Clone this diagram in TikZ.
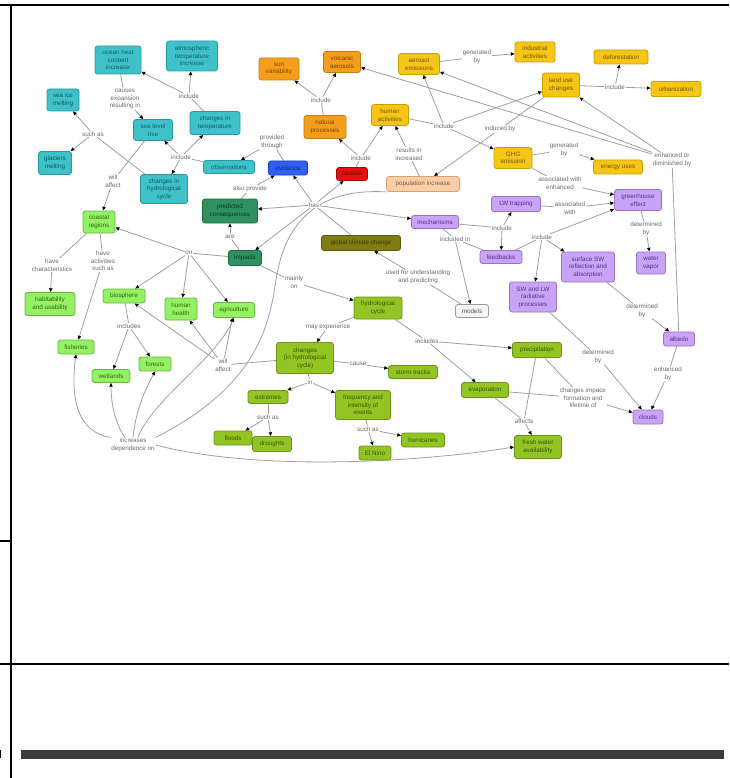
\documentclass[tikz,border=0pt]{standalone}
\usepackage{fontspec}
\setmainfont{Liberation Sans}
\usetikzlibrary{arrows.meta}
\pgfdeclarelayer{bg}
\pgfsetlayers{bg,main}
\newcommand\mapfont{\fontsize{6.3}{7.6}\selectfont}
\newcommand\cmnode[7]{\node[#1, minimum width=#5pt, minimum height=#6pt] (#2) at (#3,#4) {#7};}
\definecolor{tealF}{HTML}{3EC1C8}\definecolor{tealD}{HTML}{2A9AA0}\definecolor{tealT}{HTML}{0F5F63}
\definecolor{oraF}{HTML}{F59E1B}\definecolor{oraD}{HTML}{C97C0C}\definecolor{oraT}{HTML}{7A4400}
\definecolor{yelF}{HTML}{F6C516}\definecolor{yelD}{HTML}{C9A000}\definecolor{yelT}{HTML}{6E5800}
\definecolor{bluF}{HTML}{3060F0}\definecolor{bluD}{HTML}{1A40C0}\definecolor{bluT}{HTML}{0A2A80}
\definecolor{redF}{HTML}{E31212}\definecolor{redD}{HTML}{A00808}\definecolor{redT}{HTML}{6A0000}
\definecolor{peaF}{HTML}{F9CFA9}\definecolor{peaD}{HTML}{D9A070}\definecolor{peaT}{HTML}{8A5A30}
\definecolor{dgrF}{HTML}{2F9060}\definecolor{dgrD}{HTML}{1F6A44}\definecolor{dgrT}{HTML}{0C3F24}
\definecolor{oliF}{HTML}{807C14}\definecolor{oliD}{HTML}{5E5A08}\definecolor{oliT}{HTML}{3A3800}
\definecolor{purF}{HTML}{C9A3F5}\definecolor{purD}{HTML}{9A72CC}\definecolor{purT}{HTML}{5A2E90}
\definecolor{gryF}{HTML}{F5F5F5}\definecolor{gryD}{HTML}{9A9A9A}\definecolor{gryT}{HTML}{555555}
\definecolor{lgrF}{HTML}{96F063}\definecolor{lgrD}{HTML}{62B83C}\definecolor{lgrT}{HTML}{2E6A10}
\definecolor{ygrF}{HTML}{92C423}\definecolor{ygrD}{HTML}{6C9417}\definecolor{ygrT}{HTML}{3A5600}
\definecolor{lineC}{HTML}{A0A0A0}
\definecolor{labT}{HTML}{6A6A6A}
\definecolor{barC}{HTML}{3B3B3B}
\tikzset{
  cmbox/.style={rounded corners=2.5pt, line width=0.8pt, align=center, inner sep=1pt, font=\mapfont},
  nTeal/.style={cmbox, fill=tealF, draw=tealD, text=tealT},
  nOra/.style={cmbox, fill=oraF, draw=oraD, text=oraT},
  nYel/.style={cmbox, fill=yelF, draw=yelD, text=yelT},
  nBlu/.style={cmbox, fill=bluF, draw=bluD, text=bluT},
  nRed/.style={cmbox, fill=redF, draw=redD, text=redT},
  nPea/.style={cmbox, fill=peaF, draw=peaD, text=peaT},
  nDgr/.style={cmbox, fill=dgrF, draw=dgrD, text=dgrT},
  nOli/.style={cmbox, fill=oliF, draw=oliD, text=oliT},
  nPur/.style={cmbox, fill=purF, draw=purD, text=purT},
  nGry/.style={cmbox, fill=gryF, draw=gryD, text=gryT},
  nLgr/.style={cmbox, fill=lgrF, draw=lgrD, text=lgrT},
  nYgr/.style={cmbox, fill=ygrF, draw=ygrD, text=ygrT},
  lab/.style={font=\mapfont, text=labT, align=center, inner sep=0.6pt, fill=white},
  cn/.style={draw=lineC, line width=0.8pt},
  ca/.style={cn, -{Triangle[length=3.8pt,width=3.4pt,color=black]}},
  frameline/.style={line width=2pt, draw=black}
}
\begin{document}
\begin{tikzpicture}[x=1pt, y=-1pt]
\useasboundingbox (0,0) rectangle (729,778);
% frame
\draw[frameline] (0,5) -- (729,5);
\draw[frameline] (11,5) -- (11,778);
\draw[frameline] (0,664) -- (729,664);
\draw[frameline] (0,541) -- (11,541);
\fill[barC] (21,750) rectangle (724,759);
\fill[black] (0,750) rectangle (1.2,758);
% teal
\cmnode{nTeal}{ohc}{118}{60}{46}{28}{ocean heat\\content\\increase}
\cmnode{nTeal}{ati}{192}{56}{51}{30}{atmospheric\\temperature\\increase}
\cmnode{nTeal}{sim}{63}{100}{32}{22}{sea ice\\melting}
\cmnode{nTeal}{glm}{55}{163}{33}{23}{glaciers\\melting}
\cmnode{nTeal}{slr}{153}{130}{39}{21}{sea level\\rise}
\cmnode{nTeal}{cit}{215}{123}{50}{23}{changes in\\temperature}
\cmnode{nTeal}{obs}{229}{167}{51}{13}{observations}
\cmnode{nTeal}{chc}{164}{189}{47}{29}{changes in\\hydrological\\cycle}
% orange
\cmnode{nOra}{sun}{279}{69}{40}{22}{sun\\variability}
\cmnode{nOra}{vol}{342}{62}{37}{21}{volcanic\\aerosols}
\cmnode{nOra}{nat}{325}{127}{42}{23}{natural\\processes}
% yellow
\cmnode{nYel}{aer}{419}{64}{41}{21}{aerosol\\emissions}
\cmnode{nYel}{hum}{390}{115}{37}{21}{human\\activities}
\cmnode{nYel}{ind}{535}{52}{40}{20}{industrial\\activities}
\cmnode{nYel}{def}{621}{57}{54}{14}{deforestation}
\cmnode{nYel}{luc}{561}{85}{37}{24}{land use\\changes}
\cmnode{nYel}{urb}{676}{89}{50}{15}{urbanization}
\cmnode{nYel}{ghg}{513}{158}{38}{21}{GHG\\emission}
\cmnode{nYel}{ene}{618}{167}{49}{14}{energy uses}
% single colours
\cmnode{nBlu}{evi}{288}{168}{39}{14}{evidence}
\cmnode{nRed}{cau}{352}{174}{31}{13}{causes}
\cmnode{nPea}{pop}{423}{184}{73}{15}{population increase}
\cmnode{nDgr}{pc}{230}{211}{55}{24}{predicted\\consequences}
\cmnode{nDgr}{imp}{245}{258}{33}{15}{impacts}
\cmnode{nOli}{gcc}{361}{243}{79}{15}{global climate change}
\cmnode{nGry}{mod}{472}{311}{33}{13}{models}
% purple
\cmnode{nPur}{mech}{435}{222}{47}{13}{mechanisms}
\cmnode{nPur}{lwt}{516}{204}{49}{15}{LW trapping}
\cmnode{nPur}{ghe}{638}{200}{47}{21}{greenhouse\\effect}
\cmnode{nPur}{fb}{501}{257}{42}{13}{feedbacks}
\cmnode{nPur}{ssw}{588}{267}{53}{30}{surface SW\\reflection and\\absorption}
\cmnode{nPur}{wv}{651}{263}{29}{22}{water\\vapor}
\cmnode{nPur}{swlw}{533}{297}{47}{30}{SW and LW\\radiative\\processes}
\cmnode{nPur}{alb}{679}{339}{31}{14}{albedo}
\cmnode{nPur}{clo}{648}{417}{30}{14}{clouds}
% light green
\cmnode{nLgr}{cr}{99}{222}{32}{22}{coastal\\regions}
\cmnode{nLgr}{hab}{50}{304}{50}{23}{habitability\\and usability}
\cmnode{nLgr}{bio}{124}{296}{42}{14}{biosphere}
\cmnode{nLgr}{hh}{181}{309}{32}{22}{human\\health}
\cmnode{nLgr}{agr}{234}{310}{41}{15}{agriculture}
\cmnode{nLgr}{fis}{76}{347}{36}{14}{fisheries}
\cmnode{nLgr}{wet}{111}{376}{38}{13}{wetlands}
\cmnode{nLgr}{for}{155}{364}{32}{14}{forests}
% yellow-green
\cmnode{nYgr}{hyd}{378}{308}{48}{22}{hydrological\\cycle}
\cmnode{nYgr}{chg}{305}{358}{57}{31}{changes\\(in hydrological\\cycle)}
\cmnode{nYgr}{stt}{413}{372}{49}{13}{storm tracks}
\cmnode{nYgr}{ext}{268}{397}{40}{13}{extremes}
\cmnode{nYgr}{fre}{363}{405}{55}{29}{frequency and\\intensity of\\events}
\cmnode{nYgr}{flo}{233}{438}{38}{14}{floods}
\cmnode{nYgr}{dro}{272}{444}{39}{15}{droughts}
\cmnode{nYgr}{eln}{375}{453}{32}{14}{El Nino}
\cmnode{nYgr}{hur}{423}{440}{43}{14}{hurricanes}
\cmnode{nYgr}{pre}{537}{350}{49}{15}{precipitation}
\cmnode{nYgr}{eva}{485}{390}{47}{15}{evaporation}
\cmnode{nYgr}{fwa}{538}{447}{47}{23}{fresh water\\availability}
% linking phrases
\node[lab] (linca) at (189,96) {include};
\node[lab] (lcer) at (125,99) {causes\\expansion\\resulting in};
\node[lab] (lsucha) at (93,134) {such as};
\node[lab] (lincb) at (181,157) {include};
\node[lab] (lwaa) at (113,181) {will\\affect};
\node[lab] (lprov) at (272,142) {provided\\through};
\node[lab] (lalso) at (250,189) {also provide};
\node[lab] (lhas) at (314,205) {has};
\node[lab] (lincc) at (361,158) {include};
\node[lab] (lincd) at (321,100) {include};
\node[lab] (lres) at (409,154) {results in\\increased};
\node[lab] (lince) at (444,126) {include};
\node[lab] (lgena) at (477,57) {generated\\by};
\node[lab] (lincf) at (615,87) {include};
\node[lab] (lindb) at (500,129) {induced by};
\node[lab] (lgenb) at (564,150) {generated\\by};
\node[lab] (lenh) at (672,160) {enhanced or\\diminished by};
\node[lab] (lassa) at (560,183) {associated with\\enhanced};
\node[lab] (lassb) at (570,208) {associated\\with};
\node[lab] (lincg) at (502,228) {include};
\node[lab] (linch) at (542,237) {include};
\node[lab] (ldeta) at (646,229) {determined\\by};
\node[lab] (lincin) at (455,239) {included in};
\node[lab] (ldetb) at (642,311) {determined\\by};
\node[lab] (lused) at (418,277) {used for understanding\\and predicting};
\node[lab] (lare) at (230,237) {are};
\node[lab] (lon) at (189,253) {on};
\node[lab] (lhc) at (52,265) {have\\characteristics};
\node[lab] (lhas2) at (103,261) {have\\activities\\such as};
\node[lab] (lincs) at (129,326) {includes};
\node[lab] (lmain) at (294,282) {mainly\\on};
\node[lab] (lmay) at (328,327) {may experience};
\node[lab] (lcause) at (358,364) {cause};
\node[lab] (lin) at (310,382) {in};
\node[lab] (lsuchb) at (268,417) {such as};
\node[lab] (lsuchc) at (368,429) {such as};
\node[lab] (lincs2) at (427,341) {includes};
\node[lab] (lwab) at (223,365) {will\\affect};
\node[lab] (lidep) at (133,445) {increases\\dependence on};
\node[lab] (ldetc) at (598,357) {determined\\by};
\node[lab] (lenhby) at (668,374) {enhanced\\by};
\node[lab] (lchimp) at (583,398) {changes impace\\formation and\\lifetime of};
\node[lab] (laff) at (524,421) {affects};
% connectors
\begin{pgfonlayer}{bg}
\draw[cn] (cit) -- (linca);
\draw[ca] (linca) -- (ohc);
\draw[ca] (linca) -- (ati);
\draw[cn] (ohc) -- (lcer);
\draw[ca] (lcer) -- (slr);
\draw[cn] (obs) -- (lincb);
\draw[ca] (lincb) -- (slr);
\draw[ca] (lincb) -- (cit);
\draw[ca] (lincb) -- (chc);
\draw[cn] (chc) -- (lsucha);
\draw[ca] (lsucha) -- (sim);
\draw[ca] (lsucha) -- (glm);
\draw[cn] (slr) -- (lwaa);
\draw[ca] (lwaa) -- (cr);
\draw[cn] (evi) -- (lprov);
\draw[ca] (lprov) -- (obs);
\draw[cn] (pc) -- (lalso);
\draw[ca] (lalso) -- (evi);
\draw[cn] (gcc) -- (lhas);
\draw[ca] (lhas) -- (pc);
\draw[ca] (lhas) -- (imp);
\draw[ca] (lhas) -- (evi);
\draw[ca] (lhas) -- (cau);
\draw[ca] (lhas) -- (mech);
\draw[cn] (cau) -- (lincc);
\draw[ca] (lincc) -- (nat);
\draw[ca] (lincc) -- (hum);
\draw[cn] (nat) -- (lincd);
\draw[ca] (lincd) -- (sun);
\draw[ca] (lincd) -- (vol);
\draw[cn] (pop) -- (lres);
\draw[ca] (lres) -- (hum);
\draw[cn] (hum) -- (lince);
\draw[ca] (lince) -- (aer);
\draw[ca] (lince) -- (luc);
\draw[ca] (lince) -- (ghg);
\draw[cn] (aer) -- (lgena);
\draw[ca] (lgena) -- (ind);
\draw[cn] (luc) -- (lincf);
\draw[ca] (lincf) -- (def);
\draw[ca] (lincf) -- (urb);
\draw[cn] (luc) -- (lindb);
\draw[ca] (lindb) -- (pop);
\draw[cn] (alb) -- (lenh);
\draw[ca] (lenh) -- (luc);
\draw[ca] (lenh) -- (aer);
\draw[ca] (lenh) -- (vol);
\draw[cn] (ghg) -- (lgenb);
\draw[ca] (lgenb) -- (ene);
\draw[cn] (ghg) -- (lassa);
\draw[ca] (lassa) -- (ghe);
\draw[cn] (lwt) -- (lassb);
\draw[ca] (lassb) -- (ghe);
\draw[cn] (mech) -- (lincg);
\draw[ca] (lincg) -- (lwt);
\draw[ca] (lincg) -- (fb);
\draw[cn] (fb) -- (linch);
\draw[ca] (linch) -- (ghe);
\draw[ca] (linch) -- (ssw);
\draw[ca] (linch) -- (swlw);
\draw[cn] (ghe) -- (ldeta);
\draw[ca] (ldeta) -- (wv);
\draw[cn] (mech) -- (lincin);
\draw[cn] (fb) -- (lincin);
\draw[ca] (lincin) -- (mod);
\draw[cn] (mod) -- (lused);
\draw[ca] (lused) -- (gcc);
\draw[cn] (ssw) -- (ldetb);
\draw[ca] (ldetb) -- (alb);
\draw[cn] (swlw) -- (ldetc);
\draw[ca] (ldetc) -- (clo);
\draw[cn] (alb) -- (lenhby);
\draw[ca] (lenhby) -- (clo);
\draw[cn] (pre) -- (lchimp);
\draw[cn] (eva) -- (lchimp);
\draw[ca] (lchimp) -- (clo);
\draw[cn] (pre) -- (laff);
\draw[cn] (eva) -- (laff);
\draw[ca] (laff) -- (fwa);
\draw[cn] (imp) -- (lare);
\draw[ca] (lare) -- (pc);
\draw[cn] (imp) -- (lon);
\draw[ca] (lon) -- (cr);
\draw[ca] (lon) -- (bio);
\draw[ca] (lon) -- (hh);
\draw[ca] (lon) -- (agr);
\draw[cn] (cr) -- (lhc);
\draw[ca] (lhc) -- (hab);
\draw[cn] (cr) -- (lhas2);
\draw[ca] (lhas2) -- (fis);
\draw[cn] (bio) -- (lincs);
\draw[ca] (lincs) -- (wet);
\draw[ca] (lincs) -- (for);
\draw[cn] (imp) -- (lmain);
\draw[ca] (lmain) -- (hyd);
\draw[cn] (hyd) -- (lmay);
\draw[ca] (lmay) -- (chg);
\draw[cn] (chg) -- (lcause);
\draw[ca] (lcause) -- (stt);
\draw[cn] (chg) -- (lin);
\draw[ca] (lin) -- (ext);
\draw[ca] (lin) -- (fre);
\draw[cn] (ext) -- (lsuchb);
\draw[ca] (lsuchb) -- (flo);
\draw[ca] (lsuchb) -- (dro);
\draw[cn] (fre) -- (lsuchc);
\draw[ca] (lsuchc) -- (eln);
\draw[ca] (lsuchc) -- (hur);
\draw[cn] (hyd) -- (lincs2);
\draw[ca] (lincs2) -- (pre);
\draw[ca] (lincs2) -- (eva);
\draw[cn] (chg) -- (lwab);
\draw[ca] (lwab) -- (bio);
\draw[ca] (lwab) -- (hh);
\draw[ca] (lwab) -- (agr);
% long curves
\draw[cn] (pop.south west) .. controls (320,188) and (285,220) .. (276,280) .. controls (270,320) and (260,385) .. (lidep.north east);
\draw[ca] (lidep.north west) .. controls (78,432) and (70,400) .. (fis.south);
\draw[ca] (lidep.north) ++(-8,0) .. controls (116,425) and (111,405) .. (wet.south);
\draw[ca] (lidep.north) .. controls (136,410) and (144,392) .. (for.south);
\draw[ca] (lidep.north) ++(5,0) .. controls (152,400) and (215,360) .. (agr.south);
\draw[ca] (lidep.east) .. controls (260,472) and (420,462) .. (fwa.west);
\end{pgfonlayer}
\end{tikzpicture}
\end{document}
